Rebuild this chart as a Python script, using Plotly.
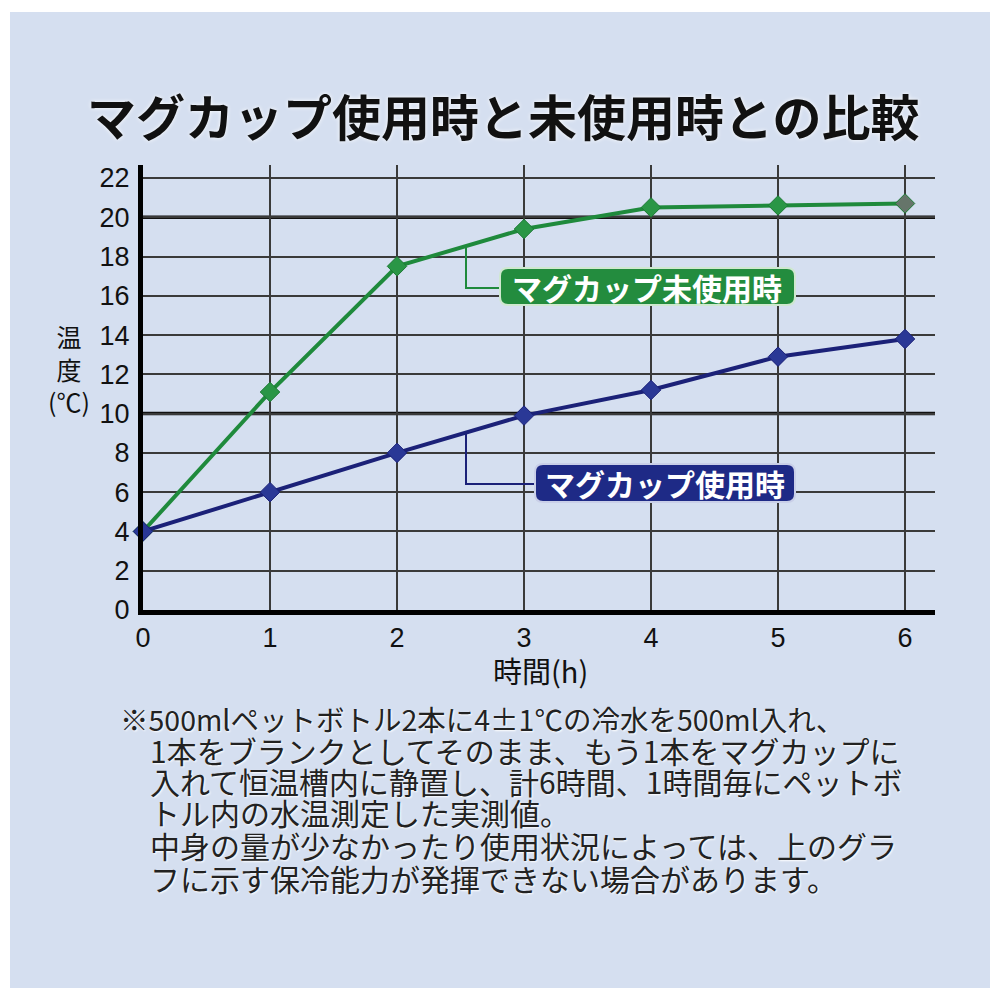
import plotly.graph_objects as go

# ---- data ----
hours = [0, 1, 2, 3, 4, 5, 6]
temp_without_mug = [4.0, 11.1, 17.5, 19.4, 20.5, 20.6, 20.7]
temp_with_mug = [4.0, 6.0, 8.0, 9.9, 11.2, 12.9, 13.8]
x_ticks = [0, 1, 2, 3, 4, 5, 6]
y_ticks = [0, 2, 4, 6, 8, 10, 12, 14, 16, 18, 20, 22]

title_text = "マグカップ使用時と未使用時との比較"
label_without = "マグカップ未使用時"
label_with = "マグカップ使用時"
x_title = "時間(h)"
y_title = "温<br>度<br>(℃)"
notes = [
    "※500mlペットボトル2本に4±1℃の冷水を500ml入れ、",
    "1本をブランクとしてそのまま、もう1本をマグカップに",
    "入れて恒温槽内に静置し、計6時間、1時間毎にペットボ",
    "トル内の水温測定した実測値。",
    "中身の量が少なかったり使用状況によっては、上のグラ",
    "フに示す保冷能力が発揮できない場合があります。",
]

GREEN = "#1f8a3c"
BLUE = "#1b2178"
JP = "Noto Sans CJK JP"
NUM = "Liberation Sans, Noto Sans CJK JP"

OFF = 8  # browser body margin
# plot-area pixel geometry (reference image pixels)
L, R, T, B = 143, 935, 165, 610
W, H = R - L, B - T
X_MAX = 6.236
Y_MAX = 22.66


def xp(px):
    return (px - L) / W


def yp(py):
    return (B - py) / H


def xd(px):
    return (px - L) / W * X_MAX


def yd(py):
    return (B - py) / H * Y_MAX


fig = go.Figure()

fig.add_trace(go.Scatter(
    x=hours, y=temp_without_mug, mode="lines+markers",
    line=dict(color=GREEN, width=4),
    marker=dict(size=15, symbol="diamond",
                color=["#2a9646"] * 6 + ["#66756a"],
                line=dict(color="#1c7a34", width=1)),
    cliponaxis=False, showlegend=False, hoverinfo="x+y",
))
fig.add_trace(go.Scatter(
    x=hours, y=temp_with_mug, mode="lines+markers",
    line=dict(color=BLUE, width=4),
    marker=dict(size=15, symbol="diamond", color="#2a3896",
                line=dict(color="#1b2178", width=1)),
    cliponaxis=False, showlegend=False, hoverinfo="x+y",
))

shapes = []
# light blue panel behind everything
shapes.append(dict(type="rect", xref="paper", yref="paper", layer="below",
                   x0=xp(10), x1=xp(990), y0=yp(988), y1=yp(12),
                   fillcolor="#d5dff0", line=dict(width=0)))
# emphasized gridlines at 10 and 20
for lvl in (10, 20):
    shapes.append(dict(type="line", xref="x", yref="y", layer="below",
                       x0=0, x1=X_MAX, y0=lvl, y1=lvl,
                       line=dict(color="#111111", width=3.5)))


def rounded_box(x0p, x1p, y0p, y1p, r, fill, edge):
    X0, X1 = xd(x0p), xd(x1p)
    Y0, Y1 = yd(y1p), yd(y0p)
    rx = r / W * X_MAX
    ry = r / H * Y_MAX
    path = (f"M {X0+rx},{Y0} L {X1-rx},{Y0} Q {X1},{Y0} {X1},{Y0+ry} "
            f"L {X1},{Y1-ry} Q {X1},{Y1} {X1-rx},{Y1} L {X0+rx},{Y1} "
            f"Q {X0},{Y1} {X0},{Y1-ry} L {X0},{Y0+ry} Q {X0},{Y0} {X0+rx},{Y0} Z")
    return dict(type="path", xref="x", yref="y", path=path, layer="above",
                fillcolor=fill, line=dict(color=edge, width=2))


# leader lines
lead_x = xd(466)
g_on = temp_without_mug[2] + (lead_x - 2) * (temp_without_mug[3] - temp_without_mug[2])
b_on = temp_with_mug[2] + (lead_x - 2) * (temp_with_mug[3] - temp_with_mug[2])
shapes.append(dict(type="path", xref="x", yref="y", layer="above",
                   path=f"M {lead_x},{g_on} L {lead_x},{yd(288)} L {xd(500)},{yd(288)}",
                   line=dict(color=GREEN, width=2)))
shapes.append(dict(type="path", xref="x", yref="y", layer="above",
                   path=f"M {lead_x},{b_on} L {lead_x},{yd(484)} L {xd(535)},{yd(484)}",
                   line=dict(color=BLUE, width=2)))
shapes.append(rounded_box(500, 795, 268, 305, 8, "#238c3e", "#cfe8cf"))
shapes.append(rounded_box(535, 795, 464, 502, 8, "#1e2a86", "#c9cfe8"))

annotations = []


def ann(text, x, y, size, color="#111111", xanchor="center", weight="normal",
        shadow="none", xref="paper", yref="paper"):
    annotations.append(dict(text=text, xref=xref, yref=yref, x=x, y=y,
                            showarrow=False, xanchor=xanchor, yanchor="middle",
                            align="center" if xanchor == "center" else "left",
                            font=dict(family=JP, size=size, color=color,
                                      weight=weight, shadow=shadow)))


ann(title_text, xp(503), yp(114), 49, weight="bold",
    shadow="0px 0px 4px white")
ann(label_without, xd(647), yd(287), 30, color="white", weight="bold",
    xref="x", yref="y")
ann(label_with, xd(665), yd(483), 30, color="white", weight="bold",
    xref="x", yref="y")
ann(x_title, xp(540), yp(670), 29)
ann(y_title, xp(69), yp(368), 25)
note_y = [718, 750, 781, 812, 845, 878]
for i, (line, py) in enumerate(zip(notes, note_y)):
    ann(line, xp(118 if i == 0 else 148), yp(py), 28.5 if i == 0 else 30,
        color="#222222", xanchor="left", shadow="1px 1px 2px white")

fig.update_layout(
    width=1000 - OFF, height=1000 - OFF, autosize=False,
    margin=dict(l=L - OFF, r=1000 - R, t=T - OFF, b=1000 - B, pad=0),
    paper_bgcolor="white", plot_bgcolor="#fffde6",
    shapes=shapes, annotations=annotations, showlegend=False,
    xaxis=dict(range=[0, X_MAX], tickvals=x_ticks, showgrid=True,
               gridcolor="#3a3a3a", gridwidth=2, zeroline=False,
               showline=True, linecolor="black", linewidth=5,
               ticks="", tickfont=dict(family=NUM, size=27, color="#111111"),
               ticklabelstandoff=0, fixedrange=True),
    yaxis=dict(range=[0, Y_MAX], tickvals=y_ticks, showgrid=True,
               gridcolor="#3a3a3a", gridwidth=2, zeroline=False,
               showline=True, linecolor="black", linewidth=5,
               ticks="", tickfont=dict(family=NUM, size=27, color="#111111"),
               ticklabelstandoff=3, fixedrange=True),
)

fig.write_html("out.html")
